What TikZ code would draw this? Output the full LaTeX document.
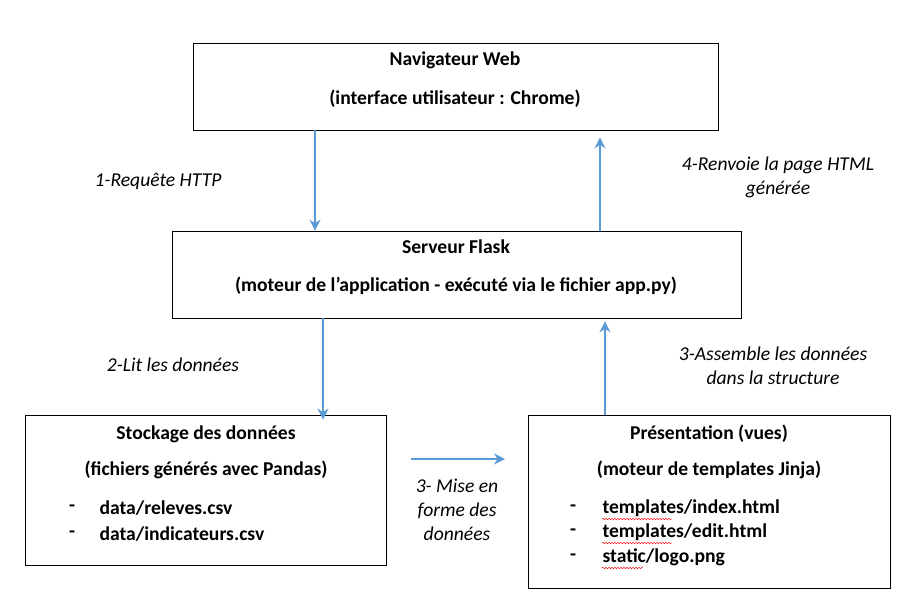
\documentclass[tikz,border=0pt]{standalone}
\usepackage{fontspec}
\setmainfont{Carlito}
\usetikzlibrary{positioning,arrows.meta,decorations.pathmorphing}
\definecolor{flecheblue}{HTML}{5B9BD5}
\begin{document}
\begin{tikzpicture}[x=1pt,y=-1pt,
    boite/.style={draw,thick,rectangle,inner sep=0pt},
    titre/.style={font=\fontsize{19.6}{22}\selectfont\bfseries},
    legende/.style={font=\fontsize{19.6}{24}\selectfont\itshape,align=center},
    fleche/.style={draw=flecheblue,line width=2.6pt,-{Stealth[length=11pt,width=11pt]}},
    souligne/.style={red,thin,decorate,decoration={snake,amplitude=0.9pt,segment length=3pt}}]
    \useasboundingbox (0,0) rectangle (908,611);
    % les boites
    \node[boite,minimum width=525pt,minimum height=87pt] (nav) at (455.5,86.5) {};
    \node[boite,minimum width=569pt,minimum height=87pt] (flask) at (456.5,274.5) {};
    \node[boite,minimum width=361pt,minimum height=150pt] (stock) at (205.5,490) {};
    \node[boite,minimum width=362pt,minimum height=173pt] (vues) at (709,501.5) {};
    % textes des boites
    \node[titre] (navT) at (455,60) {Navigateur Web};
    \node[titre] (navS) at (455,99) {(interface utilisateur : Chrome)};
    \node[titre] (flaskT) at (456,247) {Serveur Flask};
    \node[titre] (flaskS) at (456,286) {(moteur de l’application - exécuté via le fichier app.py)};
    \node[titre] (stockT) at (206,434) {Stockage des données};
    \node[titre] (stockS) at (206,470) {(fichiers générés avec Pandas)};
    \node[titre,anchor=west] (f1) at (96,508) {data/releves.csv};
    \node[titre,anchor=west] (f2) at (96,534) {data/indicateurs.csv};
    \node[titre] at (72,508) {-};
    \node[titre] at (72,534) {-};
    \node[titre] (vuesT) at (709,434) {Présentation (vues)};
    \node[titre] (vuesS) at (709,470) {(moteur de templates Jinja)};
    \node[titre,anchor=west] (t1) at (599,508) {templates/index.html};
    \node[titre,anchor=west] (t2) at (599,532) {templates/edit.html};
    \node[titre,anchor=west] (t3) at (599,557) {static/logo.png};
    \node[titre] at (573,508) {-};
    \node[titre] at (573,532) {-};
    \node[titre] at (573,557) {-};
    \draw[souligne] (602,519) -- (672,519);
    \draw[souligne] (602,543) -- (672,543);
    \draw[souligne] (602,568) -- (643,568);
    % les fleches
    \draw[fleche] ([xshift=-140.5pt]nav.south) -- ([xshift=-141.5pt]flask.north);
    \draw[fleche] ([xshift=143.5pt]flask.north) -- ([xshift=144.5pt,yshift=-7pt]nav.south);
    \draw[fleche] ([xshift=-133.5pt]flask.south) -- ([xshift=117.5pt,yshift=-5pt]stock.north);
    \draw[fleche] ([xshift=-104pt]vues.north) -- ([xshift=148.5pt,yshift=-3pt]flask.south);
    \coordinate (hd) at (411,459);
    \coordinate (ha) at (505,459);
    \draw[fleche] (hd) -- (ha);
    % legendes
    \node[legende] (l1) at (158,181) {1-Requête HTTP};
    \node[legende] (l4) at (778,177) {4-Renvoie la page HTML\\générée};
    \node[legende] (l2) at (173,365) {2-Lit les données};
    \node[legende] (l3) at (773,366) {3-Assemble les données\\dans la structure};
    \node[legende] (lm) at (457,510) {3- Mise en\\forme des\\données};
\end{tikzpicture}
\end{document}
